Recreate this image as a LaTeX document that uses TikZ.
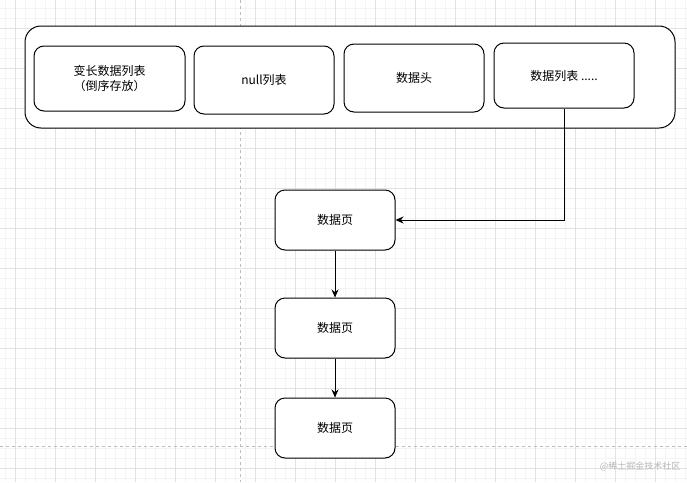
\documentclass[tikz,border=0pt]{standalone}
\usepackage{fontspec}
\setmainfont{Noto Sans CJK SC}
\usepackage{xcolor}
\usetikzlibrary{arrows.meta, positioning}
\definecolor{rejilla}{HTML}{E2E2E2}
\definecolor{rejillafina}{HTML}{F4F4F4}
\definecolor{guia}{HTML}{BDBDBD}
\definecolor{marca}{HTML}{B5B5B5}
\tikzset{
  every picture/.style={font=\fontsize{12}{15}\selectfont, >=Stealth},
  marco/.style={draw=black, fill=white, line width=1pt, rounded corners=16pt,
              minimum width=650pt, minimum height=102pt},
  campo/.style={draw=black, fill=white, line width=1pt, rounded corners=10pt,
              minimum width=140pt, minimum height=66pt, align=center},
  pagina/.style={draw=black, fill=white, line width=1pt, rounded corners=10pt,
              minimum width=120pt, minimum height=60pt, align=center},
  flecha/.style={-{Stealth[length=8pt,width=7pt]}, line width=1pt},
}

\begin{document}
\begin{tikzpicture}[x=1pt, y=-1pt]
  \useasboundingbox (0,0) rectangle (687,482);
  % fondo de rejilla
  \foreach \x in {5,15,...,685} \draw[rejillafina, line width=0.6pt] (\x,0) -- (\x,482);
  \foreach \y in {8,18,...,478} \draw[rejillafina, line width=0.6pt] (0,\y) -- (687,\y);
  \foreach \x in {15,55,...,655} \draw[rejilla, line width=0.7pt] (\x,0) -- (\x,482);
  \foreach \y in {28,68,...,468} \draw[rejilla, line width=0.7pt] (0,\y) -- (687,\y);
  \draw[guia, dashed, line width=0.6pt] (240,0) -- (240,482);
  \draw[guia, dashed, line width=0.6pt] (0,446) -- (687,446);

  \node[marco] (M) at (350,77) {};
  \node[campo, minimum width=151pt, minimum height=65pt] (C1) at (109.5,78.5) {变长数据列表\\（倒序存放）};
  \node[campo, minimum height=68pt] (C2) at (264,80) {null列表};
  \node[campo, minimum height=68pt] (C3) at (414,78) {数据头};
  \node[campo, minimum height=65pt] (C4) at (564,75.5) {数据列表 .....};

  \node[pagina] (P1) at (335,220) {数据页};
  \node[pagina] (P2) at (335,328) {数据页};
  \node[pagina] (P3) at (335,428) {数据页};
  \draw[flecha] (C4.south) |- (P1.east);
  \draw[flecha] (P1) -- (P2); \draw[flecha] (P2) -- (P3);

  \node[text=marca, font=\fontsize{9}{11}\selectfont] (W) at (640,466) {@稀土掘金技术社区};
\end{tikzpicture}
\end{document}
